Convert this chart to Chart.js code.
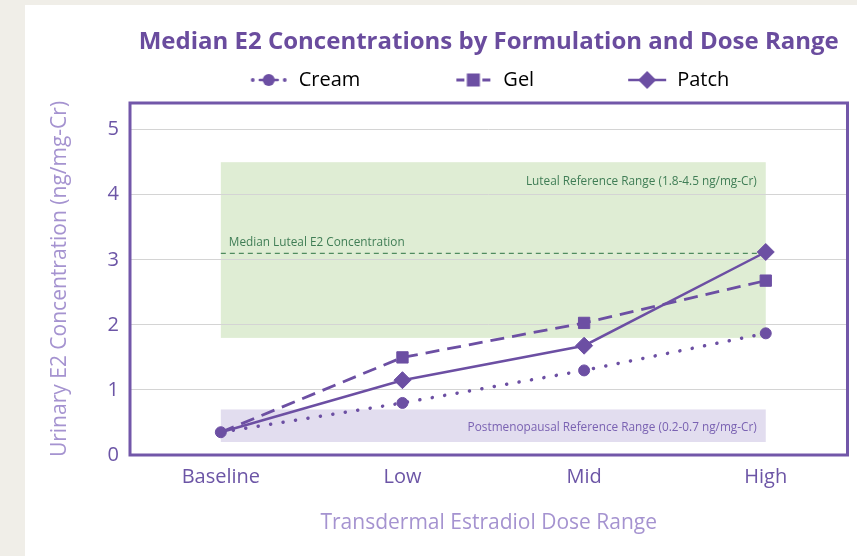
<!DOCTYPE html>
<html>
<head>
<meta charset="utf-8">
<script src="https://cdn.jsdelivr.net/npm/chart.js@4.4.1/dist/chart.umd.min.js"></script>
<style>
    html, body { margin: 0; padding: 0; width: 857px; height: 556px; overflow: hidden; background: #f0eee8; }
    #panel { position: absolute; left: 25px; top: 5px; right: 0; bottom: 0; background: #ffffff; }
    #wrap { position: absolute; left: 0; top: 0; width: 857px; height: 556px; }
</style>
</head>
<body>
<div id="panel"></div>
<div id="wrap"><canvas id="chart"></canvas></div>
<script>
var categories = ['Baseline', 'Low', 'Mid', 'High'];
var seriesNames = ['Cream', 'Gel', 'Patch'];
var creamValues = [0.35, 0.8, 1.3, 1.87];
var gelValues = [0.35, 1.5, 2.03, 2.68];
var patchValues = [0.35, 1.15, 1.68, 3.12];
var yTicks = [0, 1, 2, 3, 4, 5];
var lutealRange = [1.8, 4.5];
var postmenopausalRange = [0.2, 0.7];
var medianLuteal = 3.1;

var purple = '#6c4fa3';
var font = "'Open Sans', sans-serif";

function toPoints(values) {
    return values.map(function (v, i) { return {x: i, y: v}; });
}

// legend icons: line + marker, drawn at the right end of a wide box
var ICON_W = 123;
function makeIcon(kind) {
    var c = document.createElement('canvas');
    c.width = ICON_W;
    c.height = 24;
    var g = c.getContext('2d');
    var cx = ICON_W - 20, cy = 12;
    g.fillStyle = purple;
    g.strokeStyle = purple;
    if (kind === 'circle') {
        g.beginPath(); g.arc(cx - 16, cy, 1.9, 0, Math.PI * 2); g.fill();
        g.beginPath(); g.arc(cx + 16, cy, 1.9, 0, Math.PI * 2); g.fill();
        g.lineWidth = 2.5; g.lineCap = 'round';
        g.beginPath(); g.moveTo(cx - 9, cy); g.lineTo(cx + 9, cy); g.stroke();
        g.beginPath(); g.arc(cx, cy, 6, 0, Math.PI * 2); g.fill();
    } else if (kind === 'rect') {
        g.lineWidth = 3;
        g.beginPath(); g.moveTo(cx - 17, cy); g.lineTo(cx - 9, cy); g.stroke();
        g.beginPath(); g.moveTo(cx + 9, cy); g.lineTo(cx + 17, cy); g.stroke();
        g.fillRect(cx - 6.5, cy - 6.5, 13, 13);
    } else {
        g.lineWidth = 2.5;
        g.beginPath(); g.moveTo(cx - 19, cy); g.lineTo(cx + 19, cy); g.stroke();
        g.beginPath();
        g.moveTo(cx - 9, cy); g.lineTo(cx, cy - 9); g.lineTo(cx + 9, cy); g.lineTo(cx, cy + 9);
        g.closePath(); g.fill();
    }
    return c;
}

var rangesPlugin = {
    id: 'ranges',
    beforeDraw: function (chart) {
        var xs = chart.scales.x, ys = chart.scales.y, ctx = chart.ctx;
        var left = xs.getPixelForValue(0);
        var right = xs.getPixelForValue(categories.length - 1);
        ctx.save();
        var t = ys.getPixelForValue(lutealRange[1]), b = ys.getPixelForValue(lutealRange[0]);
        ctx.fillStyle = '#dfedd4';
        ctx.fillRect(left, t, right - left, b - t);
        t = ys.getPixelForValue(postmenopausalRange[1]);
        b = ys.getPixelForValue(postmenopausalRange[0]);
        ctx.fillStyle = '#e2ddef';
        ctx.fillRect(left, t, right - left, b - t);
        ctx.restore();
    },
    beforeDatasetsDraw: function (chart) {
        var xs = chart.scales.x, ys = chart.scales.y, ctx = chart.ctx;
        var left = xs.getPixelForValue(0);
        var right = xs.getPixelForValue(categories.length - 1);
        var area = chart.chartArea;
        ctx.save();
        // median line
        var my = ys.getPixelForValue(medianLuteal);
        ctx.strokeStyle = '#4f8c5f';
        ctx.lineWidth = 1.2;
        ctx.setLineDash([5, 4]);
        ctx.beginPath(); ctx.moveTo(left, my); ctx.lineTo(right, my); ctx.stroke();
        ctx.setLineDash([]);
        // labels
        ctx.font = '11.8px ' + font;
        ctx.textBaseline = 'middle';
        ctx.fillStyle = '#3f7d55';
        ctx.textAlign = 'right';
        ctx.fillText('Luteal Reference Range (1.8-4.5 ng/mg-Cr)', right - 9, ys.getPixelForValue(lutealRange[1]) + 19);
        ctx.textAlign = 'left';
        ctx.fillText('Median Luteal E2 Concentration', left + 8, my - 11);
        ctx.fillStyle = '#7a62b2';
        ctx.textAlign = 'right';
        var pm = (ys.getPixelForValue(postmenopausalRange[0]) + ys.getPixelForValue(postmenopausalRange[1])) / 2;
        ctx.fillText('Postmenopausal Reference Range (0.2-0.7 ng/mg-Cr)', right - 9, pm + 2);
        // frame
        ctx.strokeStyle = '#7257a9';
        ctx.lineWidth = 3;
        ctx.strokeRect(area.left, area.top, area.right - area.left, area.bottom - area.top);
        ctx.restore();
    }
};

var icons = [makeIcon('circle'), makeIcon('rect'), makeIcon('rectRot')];

new Chart(document.getElementById('chart'), {
    type: 'line',
    data: {
        datasets: [{
            label: seriesNames[0],
            data: toPoints(creamValues),
            borderColor: purple,
            backgroundColor: purple,
            borderWidth: 3.5,
            borderDash: [0.1, 12.5],
            borderCapStyle: 'round',
            pointStyle: 'circle',
            pointRadius: 5.5,
            pointBorderWidth: 1,
            xAxisID: 'x',
            yAxisID: 'y'
        }, {
            label: seriesNames[1],
            data: toPoints(gelValues),
            borderColor: purple,
            backgroundColor: purple,
            borderWidth: 2.8,
            borderDash: [14, 8],
            pointStyle: 'rect',
            pointRadius: [0, 8, 8, 8],
            pointBorderWidth: 1,
            xAxisID: 'x',
            yAxisID: 'y'
        }, {
            label: seriesNames[2],
            data: toPoints(patchValues),
            borderColor: purple,
            backgroundColor: purple,
            borderWidth: 2.5,
            pointStyle: 'rectRot',
            pointRadius: [0, 8.5, 8.5, 8.5],
            pointBorderWidth: 1,
            xAxisID: 'x',
            yAxisID: 'y'
        }]
    },
    options: {
        responsive: true,
        maintainAspectRatio: false,
        animation: false,
        devicePixelRatio: 1,
        layout: {padding: {left: 45, right: 7, top: 5, bottom: 0}},
        elements: {line: {tension: 0}},
        plugins: {
            tooltip: {enabled: false},
            title: {
                display: true,
                fullSize: false,
                text: 'Median E2 Concentrations by Formulation and Dose Range',
                color: '#6a4c9e',
                font: {family: font, size: 24, weight: 'bold'},
                padding: {top: 23, bottom: 3.2}
            },
            legend: {
                display: true,
                labels: {
                    usePointStyle: true,
                    pointStyleWidth: ICON_W,
                    padding: 10,
                    color: '#6c55a6',
                    font: {family: font, size: 20},
                    generateLabels: function (chart) {
                        return chart.data.datasets.map(function (ds, i) {
                            return {
                                text: ds.label,
                                pointStyle: icons[i],
                                fillStyle: purple,
                                strokeStyle: purple,
                                lineWidth: 0,
                                hidden: false,
                                datasetIndex: i
                            };
                        });
                    }
                }
            }
        },
        scales: {
            x: {
                type: 'linear',
                position: 'bottom',
                min: -0.5,
                max: 3.45,
                afterBuildTicks: function (s) {
                    s.ticks = s.ticks.filter(function (t) { return categories[t.value] !== undefined && Number.isInteger(t.value); });
                },
                afterFit: function (s) { s.height = 101; },
                ticks: {
                    stepSize: 1,
                    padding: 10,
                    color: '#6c55a6',
                    font: {family: font, size: 20},
                    callback: function (v) { return categories[v]; }
                },
                grid: {display: false, drawTicks: false},
                border: {display: false},
                title: {
                    display: true,
                    text: 'Transdermal Estradiol Dose Range',
                    color: '#a593d0',
                    font: {family: font, size: 21},
                    padding: {top: 0, bottom: 20.4}
                }
            },
            y: {
                type: 'linear',
                min: 0,
                max: 5.41,
                afterBuildTicks: function (s) {
                    s.ticks = s.ticks.filter(function (t) { return yTicks.indexOf(t.value) !== -1; });
                },
                afterFit: function (s) { s.width = 85; },
                ticks: {
                    stepSize: 1,
                    padding: 11,
                    color: '#6c55a6',
                    font: {family: font, size: 20}
                },
                grid: {color: '#d4d4d4', lineWidth: 1, drawTicks: false},
                border: {display: false},
                title: {
                    display: true,
                    text: 'Urinary E2 Concentration (ng/mg-Cr)',
                    color: '#a593d0',
                    font: {family: font, size: 21},
                    padding: {top: 2.4, bottom: 0}
                }
            },
            gap: {
                type: 'linear',
                position: 'top',
                display: true,
                ticks: {display: false},
                grid: {display: false, drawTicks: false},
                border: {display: false},
                afterFit: function (s) { s.height = 3; }
            }
        }
    },
    plugins: [rangesPlugin]
});
</script>
</body>
</html>
